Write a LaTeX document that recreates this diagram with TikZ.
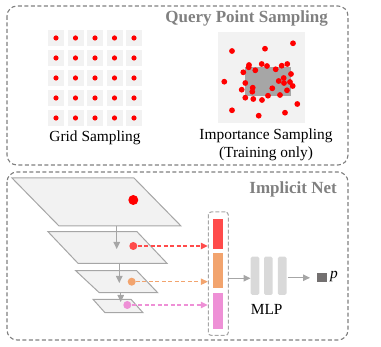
\documentclass[tikz,border=0pt]{standalone}
\usepackage{fontspec}
\setmainfont{Liberation Serif}
\usepackage{xcolor}
\usepackage{tikz}
\usetikzlibrary{arrows.meta,calc}

\definecolor{framegray}{HTML}{808080}
\definecolor{cellgray}{HTML}{F2F2F2}
\definecolor{midgray}{HTML}{A6A6A6}
\definecolor{mlpgray}{HTML}{D9D9D9}
\definecolor{outgray}{HTML}{737070}
\definecolor{featred}{HTML}{FF4B4B}
\definecolor{featorange}{HTML}{F2A46E}
\definecolor{featpink}{HTML}{EE90D6}

\begin{document}
\begin{tikzpicture}[
  x=1pt, y=-1pt,
  every node/.style={font=\fontsize{15.4}{18}\selectfont, inner sep=0pt},
  paneltitle/.style={font=\fontsize{17}{20}\selectfont\bfseries, text=framegray, anchor=east},
  panelframe/.style={draw=framegray, dashed, dash pattern=on 4pt off 2.5pt, line width=1.1pt, rounded corners=10pt},
  gridcell/.style={fill=cellgray, minimum size=16pt},
  plane/.style={fill=cellgray, draw=midgray, line width=1pt, line join=miter},
  dot/.style={circle, minimum size=8pt},
  grayarrow/.style={draw=midgray, line width=1.2pt, -{Triangle[length=7pt,width=6.5pt]}},
  featarrow/.style={dashed, dash pattern=on 4pt off 2.5pt, line width=1.1pt, -{Triangle[length=7pt,width=6.5pt]}},
  bar/.style={minimum width=10pt},
  mlpbar/.style={fill=mlpgray, rounded corners=1.5pt, minimum width=8.6pt, minimum height=38.3pt},
]
\useasboundingbox (0,0) rectangle (381,347);

%%% Panel (top): query point sampling %%%
\begin{scope}
  \draw[panelframe] (7,6) rectangle (348,165);
  \node[paneltitle] (qtitle) at (328,18) {Query Point Sampling};

  % Grid sampling: 5x5 cells, one point each
  \foreach \i in {0,...,4} {
    \foreach \j in {0,...,4} {
      \node[gridcell] (cell\i\j) at ({56+19.5*\i},{38+20*\j}) {};
      \fill[red] (cell\i\j) circle (2.6pt);
    }
  }
  \node (gridlabel) at (95,138) {Grid Sampling};

  % Importance sampling: dense points around the object
  \fill[cellgray] (218,32) rectangle (305,123);
  \fill[midgray] (245,67) rectangle (291,96);
  \foreach \px/\py in {232/51, 265/48.7, 293/43.3, 224.3/81.7, 249/65, 248.7/67.3,
      261.7/64, 267/66, 281.7/65.7, 287.3/64, 243.3/72.3, 255.3/70.3, 275.7/69.3,
      291/74, 245.3/83, 241.7/89.7, 252.7/87.7, 252.3/91.7, 278.7/81, 283.7/78,
      284/83, 290/82, 292.7/86, 272.3/88.3, 287/90.3, 280/95, 268/95.7, 245.3/97.7,
      253.3/99, 262/100, 297.3/104, 232/110.3, 258.7/115.7, 285/112.7} {
    \fill[red] (\px,\py) circle (2.9pt);
  }
  \node[align=center] (implabel) at (266,145) {Importance Sampling\\(Training only)};
\end{scope}

%%% Panel (bottom): implicit net %%%
\begin{scope}
  \draw[panelframe] (7,172) rectangle (348,340);
  \node[paneltitle] (ntitle) at (337,189) {Implicit Net};

  % Feature pyramid planes
  \filldraw[plane] (12,178) -- (134,178) -- (181,226) -- (59,226) -- cycle;
  \filldraw[plane] (48,231.7) -- (137,231.7) -- (167,263.3) -- (78,263.3) -- cycle;
  \filldraw[plane] (75.7,270.7) -- (136.7,270.7) -- (157.7,292.7) -- (99.3,292.7) -- cycle;
  \filldraw[plane] (93,299.3) -- (131,299.3) -- (143,312.7) -- (105,312.7) -- cycle;

  \coordinate (p1b) at (116.7,226);   \coordinate (p2t) at (116.7,249);
  \coordinate (p2b) at (119.3,263.3); \coordinate (p3t) at (119.3,283);
  \coordinate (p3b) at (120.7,292.7); \coordinate (p4t) at (120.7,302);
  \draw[grayarrow] (p1b) -- (p2t);
  \draw[grayarrow] (p2b) -- (p3t);
  \draw[grayarrow] (p3b) -- (p4t);

  % Query points on each level
  \node[dot, fill=red, minimum size=10pt] (d1) at (133.3,200) {};
  \node[dot, fill=featred] (d2) at (133.3,246) {};
  \node[dot, fill=featorange] (d3) at (131.7,281.7) {};
  \node[dot, fill=featpink] (d4) at (127.3,305) {};

  % Concatenated feature column
  \node[draw=midgray, dashed, dash pattern=on 4pt off 2pt, line width=1.1pt, rounded corners=3pt,
        minimum width=20pt, minimum height=123.5pt] (col) at (218.3,273.7) {};
  \node[bar, fill=featred, minimum height=30.3pt] (fr) at (218.3,234.2) {};
  \node[bar, fill=featorange, minimum height=35pt] (fo) at (218.3,270.8) {};
  \node[bar, fill=featpink, minimum height=36.6pt] (fp) at (218.3,311) {};

  \draw[featarrow, featred] (d2.east) -- (d2 -| col.west);
  \draw[featarrow, featorange] (d3.east) -- (d3 -| col.west);
  \draw[featarrow, featpink] (d4.east) -- (d4 -| col.west);

  % MLP and output
  \node[mlpbar] (m1) at (255,275.8) {};
  \node[mlpbar] (m2) at (268.3,275.8) {};
  \node[mlpbar] (m3) at (282.2,275.8) {};
  \node (mlplabel) at (266.7,309.3) {MLP};
  \node[fill=outgray, minimum width=10pt, minimum height=9pt] (pout) at (321.7,277.8) {};
  \node[anchor=west] (plabel) at (330,276.5) {\textit{p}};

  \draw[grayarrow] ($(col.east |- 0,278.3)$) -- ($(m1.west |- 0,278.3)$);
  \draw[grayarrow, shorten >=6.5pt, shorten <=1pt] (m3.east |- pout) -- (pout.west);
\end{scope}

\end{tikzpicture}
\end{document}
